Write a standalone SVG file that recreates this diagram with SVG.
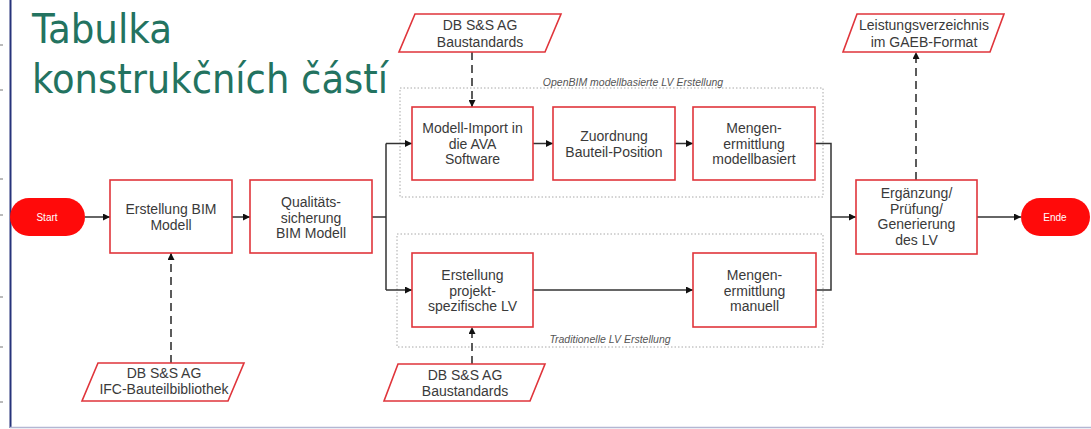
<svg xmlns="http://www.w3.org/2000/svg" width="1091" height="429" viewBox="0 0 1091 429">
  <style>
    .box { fill: #ffffff; stroke: #e0353b; stroke-width: 1.6; }
    .para { fill: #ffffff; stroke: #e0353b; stroke-width: 1.6; stroke-linejoin: miter; }
    .pill { fill: #ff0a0a; stroke: none; }
    .lbl { font-family: "Liberation Sans", Arial, sans-serif; font-size: 14px; fill: #3a3a3a; text-anchor: middle; }
    .pilltxt { font-family: "Liberation Sans", Arial, sans-serif; font-size: 10px; fill: #ffffff; text-anchor: middle; }
    .grp { fill: none; stroke: #a8a8a8; stroke-width: 1; stroke-dasharray: 1.5 2; }
    .grplbl { font-family: "Liberation Sans", Arial, sans-serif; font-size: 10.5px; font-style: italic; fill: #555555; text-anchor: middle; }
    .flow { fill: none; stroke: #333333; stroke-width: 1.5; }
    .dash { fill: none; stroke: #333333; stroke-width: 1.6; stroke-dasharray: 8 5; }
    .title { font-family: "DejaVu Sans Condensed", "DejaVu Sans", sans-serif; font-size: 41px; fill: #237360; }
    .tick { stroke: #777777; stroke-width: 1; }
  </style>
  <defs>
    <marker id="arrow" viewBox="0 0 10 10" refX="10" refY="5" markerWidth="7" markerHeight="7" markerUnits="userSpaceOnUse" orient="auto">
      <path d="M0,0 L10,5 L0,10 z" fill="#111111"/>
    </marker>
  </defs>

  <rect x="0" y="0" width="1091" height="429" fill="#ffffff"/>

  <!-- slide frame -->
  <g id="frame">
    <line x1="10.5" y1="0" x2="10.5" y2="428" stroke="#26337a" stroke-width="2"/>
    <line x1="10" y1="427.5" x2="1091" y2="427.5" stroke="#b3b7d3" stroke-width="1.5"/>
    <line class="tick" x1="0" y1="45" x2="3" y2="45"/>
    <line class="tick" x1="0" y1="90" x2="3" y2="90"/>
    <line class="tick" x1="0" y1="179" x2="3" y2="179"/>
    <line class="tick" x1="0" y1="215" x2="3" y2="215"/>
    <line class="tick" x1="0" y1="297" x2="3" y2="297"/>
    <line class="tick" x1="0" y1="347" x2="3" y2="347"/>
    <line class="tick" x1="0" y1="402" x2="3" y2="402"/>
  </g>

  <!-- swimlane-style groupings -->
  <g id="group-openbim">
    <rect class="grp" x="400" y="88" width="423" height="109"/>
    <text class="grplbl" x="633" y="86">OpenBIM modellbasierte LV Erstellung</text>
  </g>
  <g id="group-traditionell">
    <rect class="grp" x="397" y="234" width="426" height="113"/>
    <text class="grplbl" x="610" y="343">Traditionelle LV Erstellung</text>
  </g>

  <!-- connectors -->
  <g id="connectors">
    <line class="flow" x1="85" y1="217" x2="110" y2="217" marker-end="url(#arrow)"/>
    <line class="flow" x1="232" y1="217" x2="250" y2="217" marker-end="url(#arrow)"/>
    <path class="flow" d="M372,217 H386 M386,143.5 V290"/>
    <line class="flow" x1="386" y1="143.5" x2="412" y2="143.5" marker-end="url(#arrow)"/>
    <line class="flow" x1="386" y1="290" x2="412" y2="290" marker-end="url(#arrow)"/>
    <line class="flow" x1="533" y1="143.5" x2="553" y2="143.5" marker-end="url(#arrow)"/>
    <line class="flow" x1="675" y1="143.5" x2="693" y2="143.5" marker-end="url(#arrow)"/>
    <line class="flow" x1="533" y1="290" x2="693" y2="290" marker-end="url(#arrow)"/>
    <path class="flow" d="M815,143.5 H831 V290 H816"/>
    <line class="flow" x1="831" y1="217" x2="856" y2="217" marker-end="url(#arrow)"/>
    <line class="flow" x1="977" y1="217" x2="1021" y2="217" marker-end="url(#arrow)"/>
    <line class="dash" x1="472" y1="52" x2="472" y2="107" marker-end="url(#arrow)"/>
    <line class="dash" x1="916" y1="180" x2="916" y2="52" marker-end="url(#arrow)"/>
    <line class="dash" x1="472" y1="364" x2="472" y2="327" marker-end="url(#arrow)"/>
    <line class="dash" x1="171" y1="363" x2="171" y2="253" marker-end="url(#arrow)"/>
  </g>

  <!-- title -->
  <g id="title">
    <text class="title" x="32" y="42.5" textLength="140" lengthAdjust="spacingAndGlyphs">Tabulka</text>
    <text class="title" x="32" y="92.5" textLength="356" lengthAdjust="spacingAndGlyphs">konstrukčních částí</text>
  </g>

  <!-- terminals -->
  <g id="n-start">
    <rect class="pill" x="10" y="198" width="75" height="38" rx="19"/>
    <text class="pilltxt" x="47" y="220.5">Start</text>
  </g>
  <g id="n-ende">
    <rect class="pill" x="1021" y="198" width="69" height="38" rx="19"/>
    <text class="pilltxt" x="1055" y="220.5">Ende</text>
  </g>

  <!-- process steps -->
  <g id="n-erstellung-bim">
    <rect class="box" x="110" y="180" width="122" height="73"/>
    <text class="lbl" x="171" y="214">Erstellung BIM</text>
    <text class="lbl" x="171" y="230">Modell</text>
  </g>
  <g id="n-qualitaet">
    <rect class="box" x="250" y="180" width="122" height="73"/>
    <text class="lbl" x="311" y="207">Qualitäts-</text>
    <text class="lbl" x="311" y="222.5">sicherung</text>
    <text class="lbl" x="311" y="238">BIM Modell</text>
  </g>
  <g id="n-modell-import">
    <rect class="box" x="412" y="107" width="121" height="73"/>
    <text class="lbl" x="472.5" y="133">Modell-Import in</text>
    <text class="lbl" x="472.5" y="148.5">die AVA</text>
    <text class="lbl" x="472.5" y="164">Software</text>
  </g>
  <g id="n-zuordnung">
    <rect class="box" x="553" y="107" width="122" height="73"/>
    <text class="lbl" x="614" y="141">Zuordnung</text>
    <text class="lbl" x="614" y="156.5">Bauteil-Position</text>
  </g>
  <g id="n-mengen-modell">
    <rect class="box" x="693" y="107" width="122" height="73"/>
    <text class="lbl" x="754" y="133">Mengen-</text>
    <text class="lbl" x="754" y="148.5">ermittlung</text>
    <text class="lbl" x="754" y="164">modellbasiert</text>
  </g>
  <g id="n-erstellung-lv">
    <rect class="box" x="412" y="253" width="121" height="74"/>
    <text class="lbl" x="472.5" y="280">Erstellung</text>
    <text class="lbl" x="472.5" y="295.5">projekt-</text>
    <text class="lbl" x="472.5" y="311">spezifische LV</text>
  </g>
  <g id="n-mengen-manuell">
    <rect class="box" x="693" y="253" width="123" height="74"/>
    <text class="lbl" x="754.5" y="280">Mengen-</text>
    <text class="lbl" x="754.5" y="295.5">ermittlung</text>
    <text class="lbl" x="754.5" y="311">manuell</text>
  </g>
  <g id="n-ergaenzung">
    <rect class="box" x="856" y="180" width="121" height="74"/>
    <text class="lbl" x="916.5" y="198">Ergänzung/</text>
    <text class="lbl" x="916.5" y="213.5">Prüfung/</text>
    <text class="lbl" x="916.5" y="229">Generierung</text>
    <text class="lbl" x="916.5" y="244.5">des LV</text>
  </g>

  <!-- data inputs / outputs -->
  <g id="n-baustandards-oben">
    <polygon class="para" points="415,14 561,14 545,52 399,52"/>
    <text class="lbl" x="480" y="30">DB S&amp;S AG</text>
    <text class="lbl" x="480" y="46.5">Baustandards</text>
  </g>
  <g id="n-gaeb">
    <polygon class="para" points="857,14 1004,14 990,52 843,52"/>
    <text class="lbl" x="924" y="30">Leistungsverzeichnis</text>
    <text class="lbl" x="924" y="46.5">im GAEB-Format</text>
  </g>
  <g id="n-baustandards-unten">
    <polygon class="para" points="398,364 545,364 530,401 384,401"/>
    <text class="lbl" x="465" y="380">DB S&amp;S AG</text>
    <text class="lbl" x="465" y="395.5">Baustandards</text>
  </g>
  <g id="n-ifc-bibliothek">
    <polygon class="para" points="98,363 244,363 228,401 82,401"/>
    <text class="lbl" x="164" y="378">DB S&amp;S AG</text>
    <text class="lbl" x="164" y="393.5">IFC-Bauteilbibliothek</text>
  </g>
</svg>
